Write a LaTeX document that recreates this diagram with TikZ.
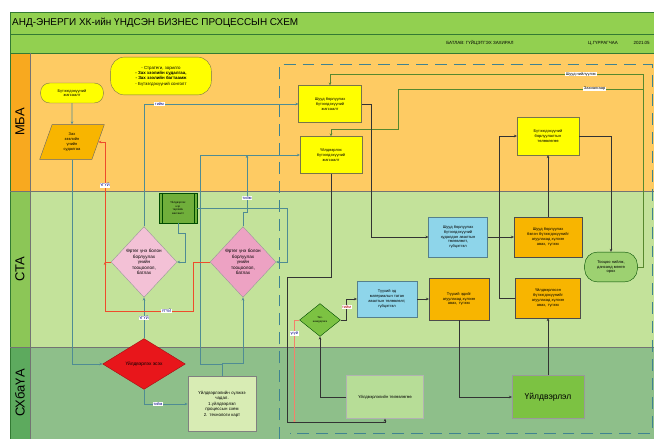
\documentclass[tikz,border=0pt]{standalone}
\usepackage{fontspec}
\setmainfont{Liberation Sans}
\usetikzlibrary{shapes.geometric,arrows.meta,positioning}

\definecolor{titlegreen}{HTML}{92D050}
\definecolor{mbaorange}{HTML}{FECB63}
\definecolor{stalight}{HTML}{C3E29A}
\definecolor{sxdark}{HTML}{8EBF8A}
\definecolor{mbalab}{HTML}{F8A91F}
\definecolor{stalab}{HTML}{8CC657}
\definecolor{sxlab}{HTML}{5DAA5E}
\definecolor{flowteal}{HTML}{4F8C93}
\definecolor{dashteal}{HTML}{3F8390}
\definecolor{boxyellow}{HTML}{FFFF00}
\definecolor{boxorange}{HTML}{F8B500}
\definecolor{boxblue}{HTML}{8ED5EA}
\definecolor{pinklight}{HTML}{F3C1D6}
\definecolor{pinkdark}{HTML}{EDA2C3}
\definecolor{decred}{HTML}{E8161B}
\definecolor{greenbox}{HTML}{7CC242}
\definecolor{palegreen}{HTML}{D8ECB4}
\definecolor{linered}{HTML}{EE4B2B}

\tikzset{
  tiny/.style={font=\fontsize{4}{4.8}\selectfont, align=center},
  yellowbox/.style={tiny, rectangle, draw=yellow!40!black, fill=boxyellow,
    minimum width=63, minimum height=37, text width=56pt, inner sep=1pt},
  orangebox/.style={yellowbox, fill=boxorange, draw=black!70},
  bluebox/.style={yellowbox, fill=boxblue, draw=boxblue!60!black},
  pinkdia/.style={tiny, diamond, draw=black!40, minimum width=66, minimum height=71,
    inner sep=0pt, text width=36pt, font=\fontsize{4.6}{5.6}\selectfont},
  lab/.style={tiny, fill=white, inner sep=0.6pt, text=blue!50!black},
  flow/.style={draw=flowteal, line width=0.6pt, -{Stealth[length=3pt,width=2.6pt]}},
  darkflow/.style={draw=black!80, line width=0.6pt, -{Stealth[length=3pt,width=2.6pt]}},
  greenflow/.style={flow, draw=greenbox!70!black},
  noflow/.style={flow, draw=linered, line width=0.7pt}
}

\begin{document}
\begin{tikzpicture}[x=1bp, y=-1bp]
  \useasboundingbox (0,0) rectangle (654,439);
  \fill[white] (0,0) rectangle (654,439);

  % header bars and lanes
  \fill[titlegreen] (10,12) rectangle (654,53);
  \fill[mbaorange] (10,53) rectangle (654,191);
  \fill[stalight] (10,191) rectangle (654,347);
  \fill[sxdark] (10,347) rectangle (654,439);
  \fill[mbalab] (10,53) rectangle (30,191);
  \fill[stalab] (10,191) rectangle (30,347);
  \fill[sxlab] (10,347) rectangle (30,439);
  \draw[green!35!black!80, line width=0.7pt] (10,12) -- (654,12) (10,34) -- (654,34)
        (10,53) -- (654,53) (10,12) -- (10,439);
  \draw[black!55, line width=0.9pt] (10,191) -- (654,191) (10,347) -- (654,347) (30,53) -- (30,439);

  \node[anchor=west, font=\fontsize{10}{11}\selectfont, inner sep=0] (title) at (12,23)
    {АНД-ЭНЕРГИ ХК-ийн ҮНДСЭН БИЗНЕС ПРОЦЕССЫН СХЕМ};
  \node[font=\fontsize{4.5}{5}\selectfont] (approve) at (480,43) {БАТЛАВ: ГҮЙЦЭТГЭХ ЗАХИРАЛ};
  \node[font=\fontsize{4.5}{5}\selectfont] (signer) at (603,43) {Ц.ГҮРРАГЧАА};
  \node[font=\fontsize{4.5}{5}\selectfont, anchor=west] (date) at (630,43) {2021.05};

  \node[rotate=90, font=\fontsize{13}{13}\selectfont] (lmba) at (20,122) {МБА};
  \node[rotate=90, font=\fontsize{13}{13}\selectfont] (lsta) at (20,269) {СТА};
  \node[rotate=90, font=\fontsize{13}{13}\selectfont] (lsx) at (20,393) {СХбаҮА};

  % dashed frame
  \draw[dashteal, line width=1pt, dash pattern=on 12pt off 7pt]
    (279,439) -- (279,65) -- (652,65) -- (652,433) -- (290,433);

  % МБА
  \node[tiny, draw=yellow!40!black, fill=boxyellow, rounded corners=14, minimum width=101,
        minimum height=38, font=\fontsize{4.4}{5.4}\selectfont] (strategy) at (161,76)
    {- Стратеги, зорилго\\ \textbf{- Зах зээлийн судалгаа,}\\ \textbf{- Зах зээлийн багтаамж}\\
     - Бүтээгдэхүүний сонголт};
  \node[tiny, draw=yellow!40!black, fill=boxyellow, rounded corners=9, minimum width=63,
        minimum height=20] (prodlist) at (72,93) {Бүтээгдэхүүний\\ жагсаалт};
  \node[tiny, trapezium, trapezium left angle=74, trapezium right angle=106,
        trapezium stretches=true, minimum width=65, minimum height=35, inner sep=0pt,
        fill=boxorange, draw=black!60] (price) at (72,142) {Зах\\ зээлийн\\ үнийн\\ судалгаа};
  \node[yellowbox] (direct) at (330,104) {Шууд борлуулах\\ бүтээгдэхүүний\\ жагсаалт};
  \node[yellowbox, minimum width=62] (produce) at (331,155) {Үйлдвэрлэх\\ бүтээгдэхүүний\\ жагсаалт};
  \node[yellowbox, minimum width=62, minimum height=38] (salesplan) at (548,136)
    {Бүтээгдэхүүний\\ борлуулалтын\\ төлөвлөгөө};

  % СТА
  \node[tiny, draw=green!30!black, fill=greenbox!90!black, minimum width=38, minimum height=30,
        inner sep=0pt, font=\fontsize{2.8}{3.4}\selectfont] (plan) at (178,208)
    {Үйлдвэрлэх\\ нэр\\ төрлийн\\ жагсаалт};
  \draw[green!30!black] ([xshift=3]plan.north west) -- ([xshift=3]plan.south west)
                        ([xshift=-3]plan.north east) -- ([xshift=-3]plan.south east);
  \node[pinkdia, fill=pinklight] (cost1) at (144,262)
    {Өртөг үнэ болон борлуулах үнийн тооцоолол, батлах};
  \node[pinkdia, fill=pinkdark] (cost2) at (243,262)
    {Өртөг үнэ болон борлуулах үнийн тооцоолол, батлах};
  \node[bluebox, minimum width=59, minimum height=40, text width=52pt] (buydirect) at (458,237)
    {Шууд борлуулах\\ бүтээгдэхүүний\\ худалдан авалтын\\ төлөвлөлт,\\ гүйцэтгэл};
  \node[orangebox, minimum width=68, minimum height=40, text width=62pt] (recvdirect) at (548,237)
    {Шууд борлуулах\\ бэлэн бүтээгдэхүүнийг\\ агуулахад хүлээн\\ авах, түгээх};
  \node[tiny, draw=green!30!black, fill=greenbox!75!white, rounded corners=13, minimum width=53,
        minimum height=30, text width=48pt, inner sep=0pt] (settle) at (611,267)
    {Тооцоо нийлж,\\ дансанд мөнгө\\ орох};
  \node[bluebox, minimum width=60, minimum height=36] (buyraw) at (387,299)
    {Түүхий эд\\ материалын татан\\ авалтын төлөвлөлт,\\ гүйцэтгэл};
  \node[orangebox, minimum width=60, minimum height=42] (recvraw) at (459,299)
    {Түүхий эдийг\\ агуулахад хүлээн\\ авах, түгээх};
  \node[orangebox, minimum width=65, minimum height=40] (recvmade) at (548,298)
    {Үйлдвэрлэсэн\\ бүтээгдэхүүнийг\\ агуулахад хүлээн\\ авах, түгээх};
  \node[tiny, diamond, aspect=1.25, draw=green!30!black, fill=greenbox, minimum width=41,
        minimum height=33, inner sep=0pt, font=\fontsize{2.8}{3.4}\selectfont] (tech) at (320,320)
    {Тех.\\ шаардлага};

  % СХбаҮА
  \node[tiny, diamond, aspect=1.6, draw=decred!70!black, fill=decred, minimum width=83,
        minimum height=51, inner sep=0pt, font=\fontsize{4.8}{5}\selectfont] (decide) at (144,364)
    {Үйлдвэрлэх эсэх};
  \node[tiny, draw=black!50, fill=palegreen, minimum width=66, minimum height=55,
        text width=62pt, font=\fontsize{4.4}{5.6}\selectfont] (capacity) at (222,404)
    {Үйлдвэрлэлийн сүлжээ\\ чадал.\\ 1.үйлдвэрлэл\\ процессын схем\\ 2. технологи карт};
  \node[tiny, draw=black!30, fill=greenbox!55!white, minimum width=77, minimum height=43,
        font=\fontsize{4.2}{5}\selectfont] (prodplan) at (385,397) {Үйлдвэрлэлийн төлөвлөгөө};
  \node[draw=black!40, fill=greenbox, minimum width=72, minimum height=43,
        font=\fontsize{8.5}{9}\selectfont] (making) at (548,397) {Үйлдвэрлэл};

  \coordinate (rjoin) at (105,262);
  \coordinate (pjoin) at (247,155);

  % teal connectors
  \draw[flow] (prodlist) -- (price);
  \draw[flow] (price.south) |- (decide.west);
  \draw[flow] (decide) -- node[lab] {ҮГҮЙ} (cost1);
  \draw[flow] (cost1.north) |- node[lab, pos=0.55] {тийм} (direct.west);
  \draw[flow] (decide.south) |- node[lab, pos=0.66] {тийм} (capacity.west);
  \draw[flow] (capacity.north) |- (200,364) |- (produce.west);
  \draw[flow] (capacity.north) -- ++(0,-13) -| (cost2.south);
  \draw[flow] (cost2.north) -- ++(0,-14) -- ++(4,0) -- node[lab, pos=0.25] {тийм} (pjoin);
  \draw[flow] (plan.east) -- ++(90,0) |- (cost2.east);
  \draw[flow] (plan.south) -- ++(0,10) -| ([xshift=8]cost1.east) -- (cost1.east);

  % red (no) connectors
  \draw[noflow] (cost1.west) -- (rjoin) |- node[lab, pos=0.32] {ҮГҮЙ} (price.east);
  \draw[noflow] (cost2.west) -- ++(-17,0) |- node[lab, pos=0.65] {ҮГҮЙ} (105,311) -- (rjoin);
  \draw[noflow, draw=linered!70] (tech.west) -- ++(-5,0) -- node[lab, pos=0.13] {үгүй} ++(0,103);

  % green connectors from settlement
  \draw[greenflow] (settle.east) -- ++(6,0) -- ++(0,-193) -| node[lab, pos=0.1, text=black] {Шууд нийлүүлэх} (direct.north);
  \draw[greenflow] (settle.east) -- ++(6,0) -- ++(0,-178) -- node[lab, pos=0.2, text=black] {Захиалгаар} ++(-245,0) -- ++(0,40) -| (produce.north);

  % dark connectors
  \draw[darkflow] (direct.east) -- ++(10,0) |- (buydirect.west);
  \draw[darkflow] (produce.south) -- ++(0,104) -- ++(-44,0) -- ++(0,145) -| (prodplan.south);
  \draw[darkflow] (prodplan.west) -| (tech.south);
  \draw[darkflow] (tech.east) -- ++(6,0) |- node[lab, pos=0.3, text=red!70!black] {тийм} (buyraw.west);
  \draw[darkflow, line width=1pt] (buyraw) -- (recvraw);
  \draw[darkflow] (recvraw.south) |- (making.west);
  \draw[darkflow] (making) -- (recvmade);
  \draw[darkflow] (buydirect) -- (recvdirect);
  \draw[darkflow] (recvmade.west) -- ++(-16,0) |- (salesplan.west);
  \draw[darkflow] (recvdirect) -- (salesplan);
  \draw[darkflow] (salesplan.east) -| (settle.north);
\end{tikzpicture}
\end{document}
